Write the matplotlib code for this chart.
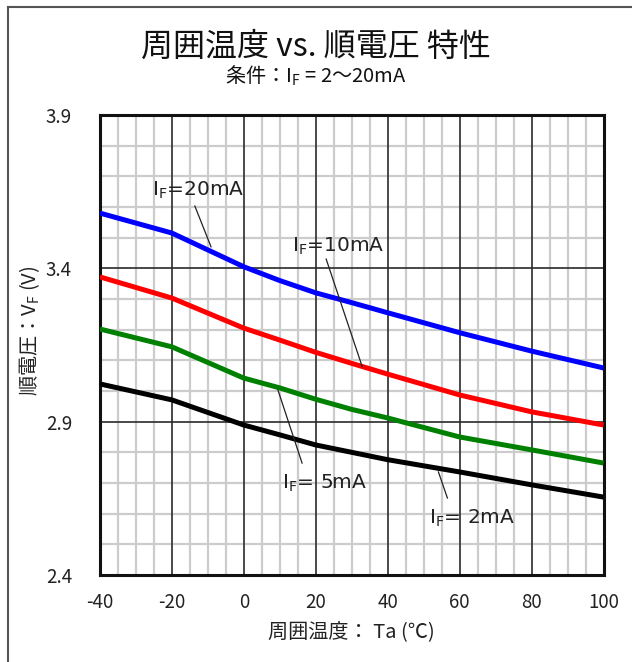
import matplotlib.pyplot as plt
from matplotlib.lines import Line2D

plt.rcParams['font.family'] = ['Noto Sans CJK JP', 'DejaVu Sans']

temp = [-40, -20, 0, 10, 20, 30, 40, 60, 80, 100]
vf_20ma = [3.58, 3.515, 3.405, 3.36, 3.32, 3.288, 3.255, 3.19, 3.13, 3.075]
vf_10ma = [3.372, 3.303, 3.205, 3.166, 3.126, 3.09, 3.055, 2.987, 2.932, 2.889]
vf_5ma = [3.202, 3.144, 3.042, 3.010, 2.973, 2.940, 2.912, 2.850, 2.808, 2.765]
vf_2ma = [3.023, 2.971, 2.889, 2.857, 2.824, 2.800, 2.776, 2.736, 2.694, 2.654]

series = [(vf_20ma, '#0000ff'), (vf_10ma, '#ff0000'), (vf_5ma, '#008000'), (vf_2ma, '#000000')]

xticks = [-40, -20, 0, 20, 40, 60, 80, 100]
yticks = [2.4, 2.9, 3.4, 3.9]

# label text, text position, leader line start, leader line end
labels = [
    ('I$_\\mathregular{F}$=20mA', (-12.7, 3.655), (-13.6, 3.603), (-9.1, 3.47)),
    ('I$_\\mathregular{F}$=10mA', (26.2, 3.47), (22.9, 3.43), (32.9, 3.08)),
    ('I$_\\mathregular{F}$= 5mA', (22.3, 2.70), (9.5, 3.003), (16.2, 2.765)),
    ('I$_\\mathregular{F}$= 2mA', (63.5, 2.585), (54.1, 2.736), (56.6, 2.651)),
]

fig = plt.figure(figsize=(6.32, 6.62), dpi=100)
ax = fig.add_axes([0.158, 0.1314, 0.797, 0.695])

# grid
for x in range(-40, 101, 5):
    if x % 20 == 0:
        ax.axvline(x, color='#2a2a2a', lw=1.2, zorder=1)
    else:
        ax.axvline(x, color='#cccccc', lw=1.6, zorder=0)
for i in range(16):
    y = 2.4 + i * 0.1
    if i % 5 == 0:
        ax.axhline(y, color='#2a2a2a', lw=1.2, zorder=1)
    else:
        ax.axhline(y, color='#cccccc', lw=1.6, zorder=0)

for vals, c in series:
    ax.plot(temp, vals, color=c, lw=3.6, solid_capstyle='butt', zorder=3)

for txt, tpos, p0, p1 in labels:
    ax.plot([p0[0], p1[0]], [p0[1], p1[1]], color='#222222', lw=0.9, zorder=4)
    ax.text(tpos[0], tpos[1], txt, ha='center', va='center', fontsize=14.5,
            color='#222222', family='DejaVu Sans', zorder=5)

ax.set_xlim(-40, 100)
ax.set_ylim(2.4, 3.9)
ax.set_xticks(xticks)
ax.set_yticks(yticks)
ax.set_xticklabels([str(v) for v in xticks])
ax.set_yticklabels([str(v) for v in yticks])
ax.tick_params(length=0, labelsize=13.5, colors='#222222')
ax.tick_params(axis='y', pad=20)
ax.tick_params(axis='x', pad=12)
for s in ax.spines.values():
    s.set_linewidth(2.2)
    s.set_color('#111111')

ax.set_xlabel('周囲温度： Ta (℃)', fontsize=14.5, color='#222222', labelpad=6)
ax.set_ylabel('順電圧：V$_\\mathregular{F}$ (V)', fontsize=14.5, color='#222222', labelpad=0)
ax.yaxis.set_label_coords(-0.115, 0.53)

fig.text(0.5, 0.930, '周囲温度 vs. 順電圧 特性', ha='center', va='center', fontsize=23, color='#111111')
fig.text(0.5, 0.886, '条件：I$_\\mathregular{F}$ = 2～20mA', ha='center', va='center', fontsize=14.5, color='#111111')

# outer frame (top and left only)
fig.add_artist(Line2D([8 / 632, 8 / 632], [0, 1 - 7 / 662], transform=fig.transFigure, color='#555555', lw=1.5))
fig.add_artist(Line2D([8 / 632, 1], [1 - 7 / 662, 1 - 7 / 662], transform=fig.transFigure, color='#555555', lw=1.5))

fig.savefig('out.png', dpi=100)
